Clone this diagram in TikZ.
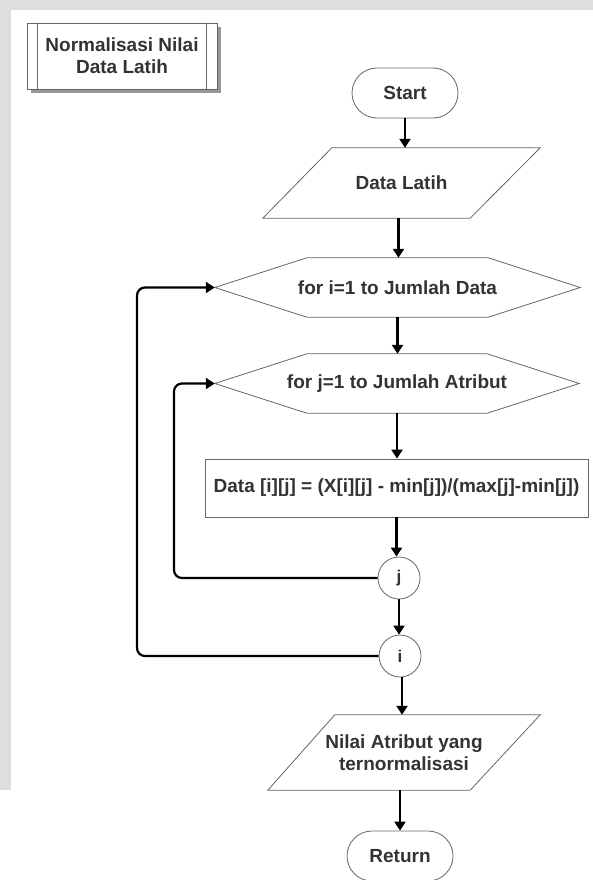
\documentclass[tikz,border=0pt]{standalone}
\usepackage{fontspec}
\setmainfont{Liberation Sans}
\usetikzlibrary{arrows.meta,calc}

\definecolor{textgray}{HTML}{333333}
\definecolor{linegray}{HTML}{666666}
\definecolor{bandgray}{HTML}{DEDEDE}
\definecolor{shadowgray}{HTML}{999999}

\tikzset{
  label font/.style={font=\bfseries\fontsize{19}{22}\selectfont, text=textgray},
  outline/.style={draw=linegray, line width=0.8pt},
  plain/.style={label font, inner sep=0pt, align=center},
  terminal/.style={plain, outline, rounded corners=25pt, minimum width=106pt, minimum height=50pt},
  process/.style={plain, outline, minimum width=383pt, minimum height=58pt},
  connector/.style={outline, circle, minimum size=42pt, inner sep=0pt,
    font=\bfseries\fontsize{17}{19}\selectfont, text=textgray},
  flow/.style={draw=black, line width=2.2pt, -{Triangle[length=9pt,width=11pt]}},
  loop/.style={flow, rounded corners=8pt},
}

\begin{document}
\begin{tikzpicture}[x=1pt, y=-1pt]
  \useasboundingbox (0,0) rectangle (593,880);

  % page background with grey margin bands
  \fill[white] (0,0) rectangle (593,880);
  \fill[bandgray] (0,0) rectangle (593,10);
  \fill[bandgray] (0,0) rectangle (11,790);

  % subroutine title box with shadow
  \fill[shadowgray] (31,27) rectangle (221,93);
  \node[plain, fill=white, outline, minimum width=190pt, minimum height=66pt] (title) at (122,56)
    {Normalisasi Nilai\\Data Latih};
  \draw[outline] ([xshift=11pt]title.north west) -- ([xshift=11pt]title.south west);
  \draw[outline] ([xshift=-11pt]title.north east) -- ([xshift=-11pt]title.south east);

  % terminals, data and loop shapes
  \node[terminal] (start) at (405,93) {Start};

  \node[plain, minimum width=277pt, minimum height=70pt] (data) at (401.5,183) {Data Latih};
  \draw[outline] ([xshift=69pt]data.north west) -- (data.north east)
    -- ([xshift=-70pt]data.south east) -- (data.south west) -- cycle;

  \node[plain, minimum width=365pt, minimum height=59pt] (fori) at (397.5,287.5) {for i=1 to Jumlah Data};
  \draw[outline] (fori.west) -- ([xshift=92pt]fori.north west) -- ([xshift=-92pt]fori.north east)
    -- (fori.east) -- ([xshift=-92pt]fori.south east) -- ([xshift=92pt]fori.south west) -- cycle;

  \node[plain, minimum width=364pt, minimum height=59pt] (forj) at (397,383.5) {for j=1 to Jumlah Atribut};
  \draw[outline] (forj.west) -- ([xshift=92pt]forj.north west) -- ([xshift=-92pt]forj.north east)
    -- (forj.east) -- ([xshift=-92pt]forj.south east) -- ([xshift=92pt]forj.south west) -- cycle;

  \node[process] (calc) at (396.5,488) {Data [i][j] = (X[i][j] - min[j])/(max[j]-min[j])};

  \node[connector] (jend) at (399,578) {j};
  \node[connector] (iend) at (400,656) {i};

  \node[plain, minimum width=272pt, minimum height=75pt] (out) at (404,752.5)
    {Nilai Atribut yang\\ternormalisasi};
  \draw[outline] ([xshift=67pt]out.north west) -- (out.north east)
    -- ([xshift=-70pt]out.south east) -- (out.south west) -- cycle;

  \node[terminal] (ret) at (400,856) {Return};

  % main flow
  \draw[flow] (start.south) -- (start.south |- data.north);
  \draw[flow] ([xshift=-3pt]data.south) -- ([xshift=-3pt]data.south |- fori.north);
  \draw[flow] (fori.south) -- (fori.south |- forj.north);
  \draw[flow] (forj.south) -- (forj.south |- calc.north);
  \draw[flow] (calc.south) -- (calc.south |- jend.north);
  \draw[flow] (jend.south) -- (jend.south |- iend.north);
  \draw[flow] ([xshift=2pt]iend.south) -- ([xshift=2pt]iend.south |- out.north);
  \draw[flow] ([xshift=-4pt]out.south) -- ([xshift=-4pt]out.south |- ret.north);

  % loop back edges
  \coordinate (jback) at (174,578);
  \coordinate (iback) at (137,656);
  \draw[loop] (jend.west) -- (jback) |- (forj.west);
  \draw[loop] (iend.west) -- (iback) |- (fori.west);
\end{tikzpicture}
\end{document}
